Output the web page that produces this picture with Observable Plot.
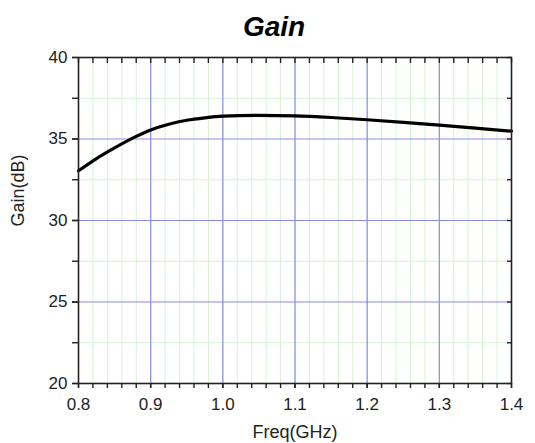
<!DOCTYPE html>
<html><head><meta charset="utf-8">
<script src="https://cdn.jsdelivr.net/npm/d3@7"></script>
<script src="https://cdn.jsdelivr.net/npm/@observablehq/plot@0.6"></script>
<style>body{margin:0;background:#fff;font-family:"Liberation Sans",Arial,sans-serif;}</style>
</head><body><div id="chart"></div>
<script>
const freq = [0.80,0.825,0.85,0.875,0.90,0.925,0.95,0.975,1.00,1.05,1.10,1.15,1.20,1.25,1.30,1.35,1.40];
const gain = [33.05,33.80,34.45,35.05,35.55,35.90,36.15,36.30,36.40,36.45,36.42,36.32,36.18,36.02,35.85,35.67,35.48];
const xTicks = [0.8,0.9,1.0,1.1,1.2,1.3,1.4];
const xInner = [0.9,1.0,1.1,1.2,1.3];
const yTicks = [20,25,30,35,40];
const yInner = [25,30,35];
const yMinor = [22.5,27.5,32.5,37.5];
const yAll = [20,22.5,25,27.5,30,32.5,35,37.5,40];
const xMinor = d3.range(40,71).map(d => d/50);
const title = "Gain";
const xLabel = "Freq(GHz)";
const yLabel = "Gain(dB)";

const data = freq.map((f,i) => ({f, g: gain[i]}));
const blank = () => "";
const plot = Plot.plot({
  width: 535, height: 443,
  marginLeft: 78, marginRight: 24, marginTop: 57, marginBottom: 60,
  style: {fontFamily: '"Liberation Sans", Arial, sans-serif', background: "#fff", color: "#222", fontSize: "17px"},
  x: {domain: [0.8, 1.4]},
  y: {domain: [20, 40]},
  marks: [
    Plot.ruleX(xMinor, {stroke: "#d6f2d6", strokeWidth: 1}),
    Plot.ruleY(yMinor, {stroke: "#d6f2d6", strokeWidth: 1}),
    Plot.ruleX(xInner, {stroke: "#8c8ce6", strokeWidth: 1.2}),
    Plot.ruleY(yInner, {stroke: "#8c8ce6", strokeWidth: 1.2}),
    Plot.line(data, {x: "f", y: "g", stroke: "#000", strokeWidth: 3.2, curve: "monotone-x"}),
    Plot.frame({stroke: "#222", strokeWidth: 1.6}),
    Plot.axisX({anchor: "bottom", ticks: xMinor, tickSize: 5, tickFormat: blank, label: null, strokeWidth: 1.4}),
    Plot.axisX({anchor: "bottom", ticks: xTicks, tickSize: 5, tickPadding: 9, tickFormat: d3.format(".1f"), fontSize: 17,
      label: null, strokeWidth: 1.4}),
    Plot.axisX({anchor: "top", ticks: xMinor, tickSize: -5, tickFormat: blank, label: null, strokeWidth: 1.4}),
    Plot.axisY({anchor: "left", ticks: yAll, tickSize: 6, tickFormat: blank, label: null, strokeWidth: 1.4}),
    Plot.axisY({anchor: "left", ticks: yTicks, tickSize: 6, tickPadding: 5, fontSize: 17, label: null, strokeWidth: 1.4}),
    Plot.axisY({anchor: "right", ticks: yAll, tickSize: -5, tickFormat: blank, label: null, strokeWidth: 1.4}),
    Plot.text([xLabel], {frameAnchor: "bottom", lineAnchor: "middle", dy: 49, fontSize: 18, fill: "#222"}),
    Plot.text([yLabel], {frameAnchor: "left", lineAnchor: "middle", rotate: -90, dx: -60, dy: 6, fontSize: 18, fill: "#222"}),
    Plot.text([title], {frameAnchor: "top", lineAnchor: "middle", dy: -30, dx: -21, fontSize: 28, fontWeight: "bold", fontStyle: "italic", fill: "#000"})
  ]
});
document.getElementById("chart").appendChild(plot);
</script>
</body></html>
